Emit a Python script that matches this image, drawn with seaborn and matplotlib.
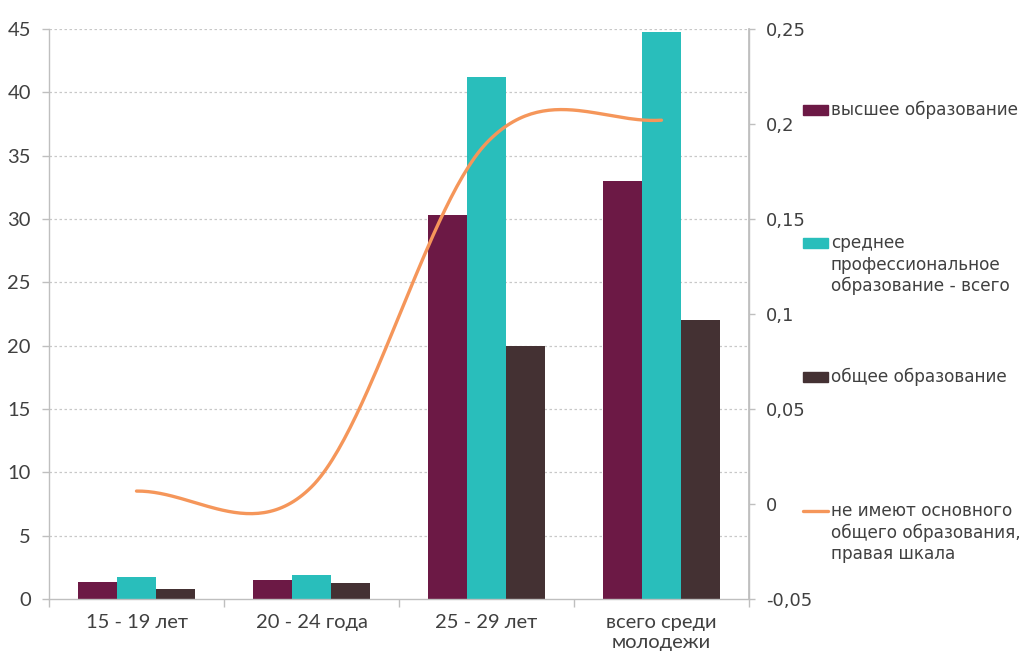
import numpy as np
import pandas as pd
import matplotlib
matplotlib.use("Agg")
import matplotlib.pyplot as plt
import seaborn as sns
from matplotlib.patches import Rectangle
from matplotlib.lines import Line2D

categories = ["15 - 19 лет", "20 - 24 года", "25 - 29 лет", "всего среди\nмолодежи"]
series = ["высшее образование", "среднее\nпрофессиональное\nобразование - всего", "общее образование"]
higher = [1.35, 1.5, 30.3, 33.0]
vocational = [1.75, 1.9, 41.2, 44.8]
general = [0.8, 1.25, 20.0, 22.0]
no_basic = [0.0068, 0.009, 0.19, 0.202]
line_label = "не имеют основного\nобщего образования,\nправая шкала"

colors = ["#6c1945", "#29bebb", "#443133"]
orange = "#f5965a"
text_col = "#404040"
axis_col = "#bfbfbf"
narrow = ['Lato', 'DejaVu Sans']

sns.set_theme(style="white")
plt.rcParams['font.family'] = ['DejaVu Sans']

df = pd.DataFrame({
    "cat": categories * 3,
    "series": [s for s in series for _ in categories],
    "value": higher + vocational + general,
})

fig = plt.figure(figsize=(10.31, 6.55), dpi=100)
ax = fig.add_axes([49 / 1031, 1 - 599 / 655, 700 / 1031, 570 / 655])

sns.barplot(data=df, x="cat", y="value", hue="series", palette=colors,
            width=0.67, saturation=1, linewidth=0, ax=ax, legend=False)
ax.set_xlabel("")
ax.set_ylabel("")
ax.set_xlim(-0.5, 3.5)
ax.set_ylim(0, 45)
ax.set_yticks(range(0, 46, 5))
ax.set_yticklabels([str(v) for v in range(0, 46, 5)],
                   family=narrow, fontsize=14.5, color=text_col)
for v in range(5, 46, 5):
    ax.axhline(v, color="#c8c8c8", lw=0.9, ls=(0, (2, 2)), zorder=0)

ax.set_xticks(range(4))
ax.set_xticklabels(categories, family=narrow, fontsize=14.5, color=text_col, linespacing=1.2)
ax.set_xticks([-0.5, 0.5, 1.5, 2.5, 3.5], minor=True)
ax.tick_params(axis="x", which="major", length=0, pad=11)
ax.tick_params(axis="x", which="minor", length=6, color=axis_col, width=1, bottom=True)
ax.tick_params(axis="y", length=5, color=axis_col, width=1, left=True, pad=8)

for s in ["left", "bottom", "right"]:
    ax.spines[s].set_color(axis_col)
    ax.spines[s].set_linewidth(1)
ax.spines["top"].set_visible(False)

# smoothed line on the right scale (Catmull-Rom, like Excel smoothing)
ax2 = ax.twinx()
p = np.r_[no_basic[0], no_basic, no_basic[-1]]
t = np.linspace(0, 1, 60)
h00 = 2 * t**3 - 3 * t**2 + 1
h10 = t**3 - 2 * t**2 + t
h01 = -2 * t**3 + 3 * t**2
h11 = t**3 - t**2
xs, ys = [], []
for i in range(len(no_basic) - 1):
    m1 = (p[i + 2] - p[i]) / 2
    m2 = (p[i + 3] - p[i + 1]) / 2
    xs.append(i + t)
    ys.append(h00 * p[i + 1] + h10 * m1 + h01 * p[i + 2] + h11 * m2)
sns.lineplot(x=np.concatenate(xs), y=np.concatenate(ys), color=orange, lw=2.4,
             sort=False, estimator=None, ax=ax2)
ax2.set_ylim(-0.05, 0.25)
rticks = [-0.05, 0, 0.05, 0.1, 0.15, 0.2, 0.25]
ax2.set_yticks(rticks)
ax2.set_yticklabels([("%g" % v).replace(".", ",") for v in rticks], fontsize=13, color=text_col)
ax2.tick_params(axis="y", length=4, color=axis_col, width=1, right=True, pad=8)
ax2.set_ylabel("")
for s in ["left", "bottom", "top"]:
    ax2.spines[s].set_visible(False)
ax2.spines["right"].set_color(axis_col)
ax2.set_xlim(-0.5, 3.5)

# legend
entries = [(series[0], colors[0], 110), (series[1], colors[1], 243),
           (series[2], colors[2], 377), (line_label, orange, 511)]
for label, col, y in entries:
    yf = 1 - y / 655
    if col == orange:
        fig.add_artist(Line2D([803 / 1031, 828 / 1031], [yf, yf], color=col, lw=2.4,
                              transform=fig.transFigure))
    else:
        fig.add_artist(Rectangle((803 / 1031, yf - 5 / 655), 25 / 1031, 10 / 655,
                                 color=col, transform=fig.transFigure))
    fig.text(831 / 1031, yf + 9 / 655, label, fontsize=12.2, color=text_col, va="top",
             ha="left", linespacing=1.25, transform=fig.transFigure)

fig.savefig("out.png", dpi=100)
